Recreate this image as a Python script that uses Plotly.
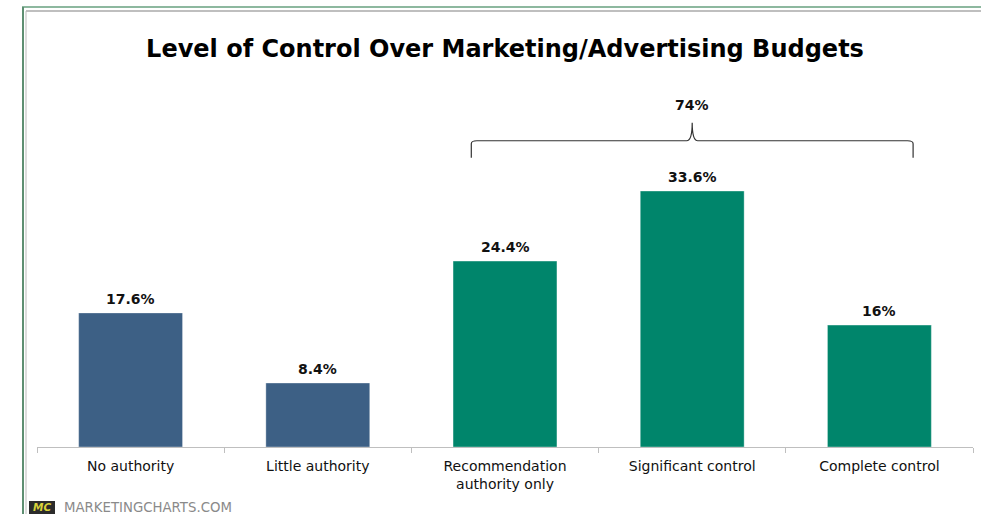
import plotly.graph_objects as go

categories = ["No authority", "Little authority", "Recommendation<br>authority only",
              "Significant control", "Complete control"]
values = [17.6, 8.4, 24.4, 33.6, 16]
value_labels = ["17.6%", "8.4%", "24.4%", "33.6%", "16%"]
bar_colors = ["#3D6085", "#3D6085", "#00856B", "#00856B", "#00856B"]
group_idx = [2, 3, 4]
group_label = "74%"

W, H = 981, 514
ML, MR, MT, MB = 37, 8, 60, 67
PW, PH = W - ML - MR, H - MT - MB
YMAX = 50.8

def px(x):  # pixel x -> paper
    return (x - ML) / PW

def py(y):  # pixel y -> paper
    return (H - MB - y) / PH

x = list(range(len(categories)))

fig = go.Figure()
fig.add_trace(go.Bar(
    x=x, y=values, marker=dict(color=bar_colors, line=dict(color="rgba(255,255,255,0.35)", width=1)),
    width=0.555, hoverinfo="skip"
))
for xi, v, t in zip(x, values, value_labels):
    fig.add_annotation(x=xi, y=v, text=f"<b>{t}</b>", showarrow=False, xref="x", yref="y",
                       xanchor="center", yanchor="middle", yshift=14,
                       font=dict(family="DejaVu Sans", size=14, color="#111111"))

# bracket over the group
g0, g1 = min(group_idx), max(group_idx)
gc = (g0 + g1) / 2
ext = 0.18
xl, xr = g0 - ext, g1 + ext
unit = PH / YMAX
yh = max(values[i] for i in group_idx) + 6.6
ye = yh - 17 / unit
ypk = yh + 18 / unit
r = 0.03
rv = 3 / unit
path = (f"M {xl},{ye} L {xl},{yh - rv} Q {xl},{yh} {xl + r},{yh} "
        f"L {gc - r},{yh} Q {gc},{yh} {gc},{ypk} Q {gc},{yh} {gc + r},{yh} "
        f"L {xr - r},{yh} Q {xr},{yh} {xr},{yh - rv} L {xr},{ye}")
fig.add_shape(type="path", path=path, xref="x", yref="y",
              line=dict(color="#333333", width=1.2))
fig.add_annotation(x=gc, y=ypk + 8 / unit, text=f"<b>{group_label}</b>", showarrow=False,
                   xref="x", yref="y", yanchor="bottom", xanchor="center",
                   font=dict(family="DejaVu Sans", size=14, color="#111111"))

# frame lines
fig.add_shape(type="line", xref="paper", yref="paper", x0=px(22), x1=px(W), y0=py(7), y1=py(7),
              line=dict(color="#8DB89F", width=2))
fig.add_shape(type="line", xref="paper", yref="paper", x0=px(23), x1=px(23), y0=py(7), y1=py(H),
              line=dict(color="#5E8F72", width=2))
fig.add_shape(type="line", xref="paper", yref="paper", x0=px(26), x1=px(W), y0=py(11), y1=py(11),
              line=dict(color="#AAAAAA", width=1.5))
fig.add_shape(type="line", xref="paper", yref="paper", x0=px(26), x1=px(26), y0=py(11), y1=py(H),
              line=dict(color="#BBBBBB", width=1))

# footer logo
fig.add_shape(type="rect", xref="paper", yref="paper", x0=px(29), x1=px(55), y0=py(515), y1=py(501),
              line=dict(width=0), fillcolor="#2B2B2B")
fig.add_annotation(xref="paper", yref="paper", x=px(42), y=py(507), text="<b><i>MC</i></b>",
                   showarrow=False, xanchor="center", yanchor="middle", borderpad=0,
                   font=dict(family="DejaVu Sans", size=10.5, color="#D8D23A"))
fig.add_annotation(xref="paper", yref="paper", x=px(63), y=py(507.5), xanchor="left", yanchor="middle",
                   text="MARKETINGCHARTS.COM", showarrow=False, borderpad=0,
                   font=dict(family="DejaVu Sans", size=13.3, color="#8A8A8A"))

fig.update_layout(
    width=W, height=H, margin=dict(l=ML, r=MR, t=MT, b=MB),
    paper_bgcolor="white", plot_bgcolor="white", showlegend=False,
    title=dict(text="<b>Level of Control Over Marketing/Advertising Budgets</b>",
               x=px(505), xref="paper", xanchor="center", y=1 - 49 / H, yanchor="middle",
               font=dict(family="DejaVu Sans", size=24, color="#000000")),
    xaxis=dict(range=[-0.5, 4.5], tickvals=x, ticktext=categories, ticks="",
               showgrid=False, zeroline=False, showline=True, linecolor="#BFBFBF", linewidth=1,
               ticklabelstandoff=6,
               tickfont=dict(family="DejaVu Sans", size=14, color="#111111"),
               minor=dict(tickvals=[i - 0.5 for i in range(len(categories) + 1)], ticks="outside",
                          ticklen=5, tickcolor="#BFBFBF", showgrid=False)),
    yaxis=dict(range=[0, YMAX], visible=False, showgrid=False, zeroline=False),
)

fig.write_html("out.html", config={"displayModeBar": False},
               post_script="document.body.style.margin='0';")
